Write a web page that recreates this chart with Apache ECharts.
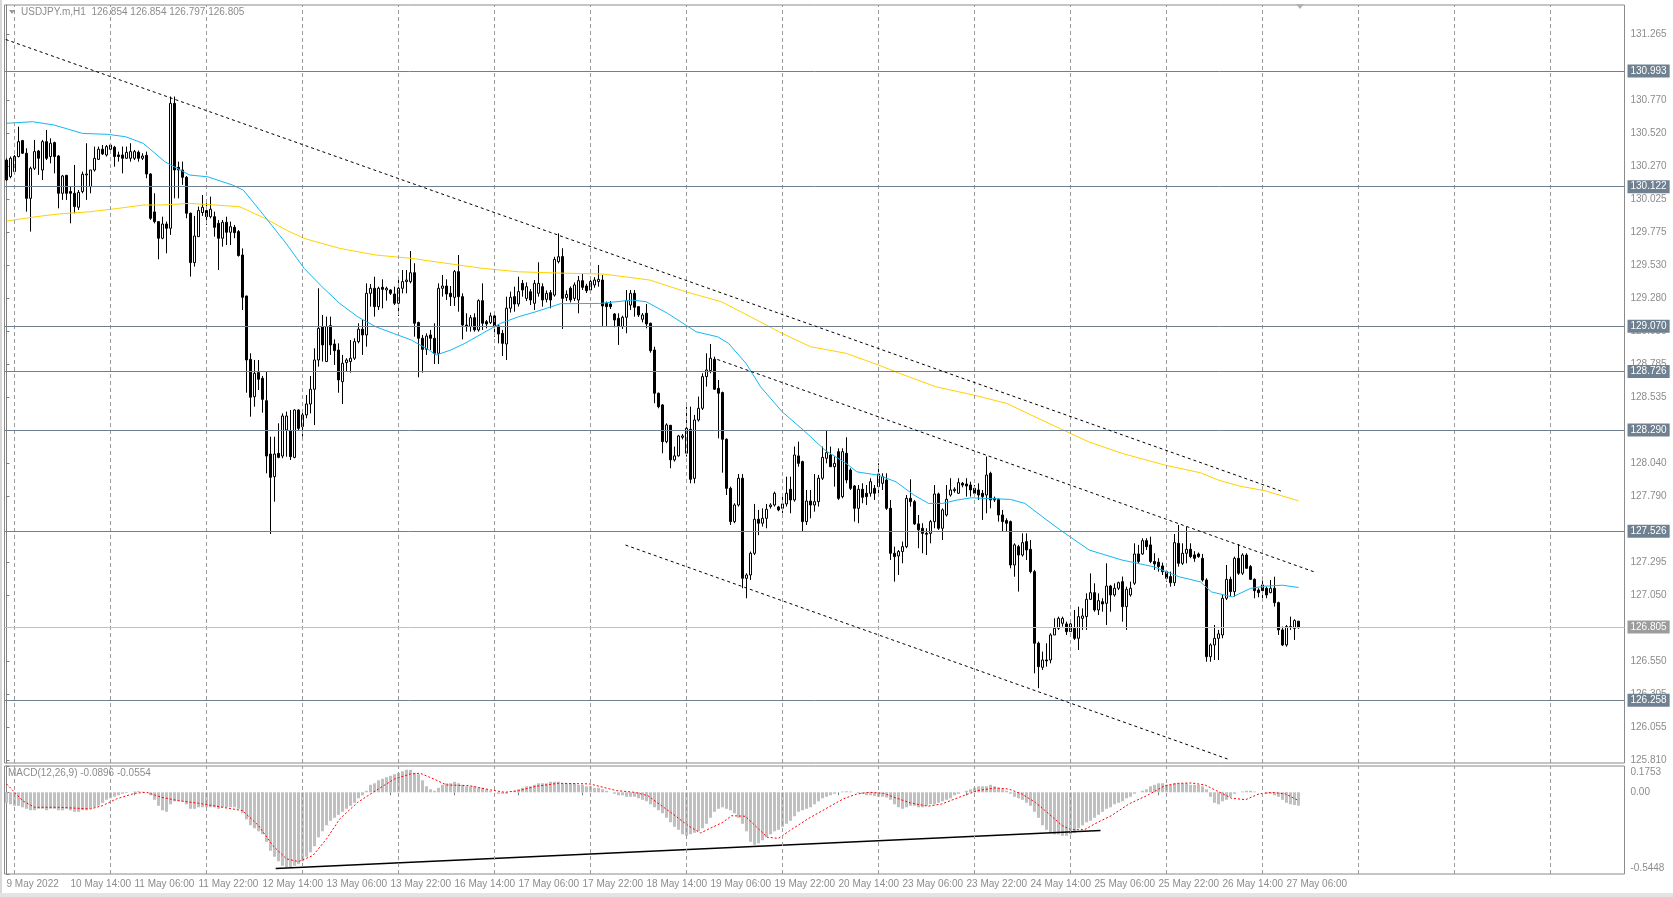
<!DOCTYPE html>
<html><head><meta charset="utf-8">
<script src="https://cdn.jsdelivr.net/npm/echarts@6/dist/echarts.min.js"></script>
<style>html,body{margin:0;padding:0;background:#fff;overflow:hidden}#c{width:1673px;height:897px}</style>
</head><body><div id="c"></div><script>
// ---------- DATA (USDJPY.m, H1, 9 May 22:00 -> 27 May 09:00, 324 bars) ----------
const opens=[
130.32,130.195,130.233,130.346,130.466,130.371,130.032,130.258,130.388,130.245,
130.458,130.346,130.451,130.35,130.07,130.205,130.083,130.07,129.965,130.083,
130.208,130.12,130.245,130.325,130.401,130.358,130.401,130.416,130.358,130.358,
130.333,130.333,130.333,130.378,130.333,130.355,130.215,129.93,129.857,129.732,
129.839,129.807,130.746,130.265,130.245,130.19,129.92,129.549,129.744,129.925,
129.94,129.894,129.894,129.844,129.732,129.852,129.777,129.814,129.782,129.606,
129.298,128.822,128.541,128.722,128.679,128.511,128.11,127.94,128.115,128.095,
128.291,128.286,128.085,128.441,128.316,128.404,128.486,128.597,128.817,129.068,
128.805,129.075,128.937,128.892,128.654,128.797,128.805,128.83,128.955,129.048,
129.005,129.318,129.356,129.218,129.363,129.343,129.343,129.313,129.243,129.356,
129.406,129.406,129.473,129.098,128.98,128.897,129.005,128.98,128.867,129.356,
129.373,129.318,129.288,129.481,129.293,129.08,129.068,129.135,129.043,129.263,
129.105,129.098,129.148,129.073,129.017,128.937,129.206,129.293,129.238,129.393,
129.28,129.33,129.243,129.318,129.368,129.273,129.323,129.305,129.556,129.594,
129.286,129.356,129.28,129.268,129.413,129.373,129.343,129.381,129.406,129.418,
129.243,129.238,129.163,129.13,129.068,129.138,129.23,129.318,129.218,129.123,
129.168,129.093,128.892,128.567,128.479,128.203,128.326,128.066,128.096,128.236,
128.116,128.296,127.927,128.366,128.454,128.692,128.737,128.822,128.604,128.572,
128.221,127.852,127.602,127.727,127.928,127.176,127.201,127.364,127.62,127.59,
127.627,127.715,127.727,127.712,127.702,127.735,127.845,127.765,128.096,128.053,
127.602,127.757,127.727,127.752,127.928,128.078,128.103,128.015,128.128,127.79,
128.116,127.99,127.87,127.702,127.845,127.815,127.815,127.852,127.865,127.89,
127.915,127.702,127.364,127.344,127.377,127.414,127.777,127.752,127.585,127.552,
127.514,127.514,127.602,127.81,127.552,127.652,127.802,127.835,127.815,127.89,
127.885,127.877,127.852,127.84,127.815,127.802,127.965,127.777,127.77,127.652,
127.61,127.602,127.276,127.414,127.351,127.452,127.394,127.226,126.688,126.507,
126.562,126.562,126.75,126.8,126.838,126.833,126.775,126.8,126.725,126.875,
126.888,127.018,127.068,126.938,127.0,126.988,127.118,127.051,127.101,127.151,
126.963,127.051,127.139,127.359,127.359,127.459,127.427,127.302,127.297,127.269,
127.226,127.189,127.143,127.439,127.289,127.364,127.394,127.352,127.359,127.326,
127.163,126.587,126.675,126.725,126.75,127.026,127.168,127.076,127.326,127.214,
127.351,127.264,127.168,127.088,127.126,127.101,127.068,127.101,126.993,126.788,
126.675,126.808,126.8,126.854];
const highs=[
130.333,130.346,130.358,130.571,130.471,130.408,130.27,130.471,130.396,130.471,
130.546,130.483,130.458,130.358,130.208,130.208,130.12,130.283,130.095,130.233,
130.446,130.245,130.421,130.421,130.433,130.433,130.446,130.426,130.383,130.421,
130.421,130.446,130.396,130.391,130.371,130.383,130.22,130.07,129.857,129.894,
129.857,130.797,130.797,130.308,130.308,130.2,129.925,129.9,129.97,130.057,
129.995,130.045,129.932,129.869,129.869,129.894,129.857,129.832,129.794,129.656,
129.3,128.867,128.817,128.817,128.697,128.729,128.24,128.24,128.341,128.416,
128.429,128.441,128.446,128.446,128.441,128.554,128.697,128.905,129.356,129.155,
129.143,129.143,128.972,128.942,128.855,128.83,128.967,128.98,129.093,129.118,
129.393,129.388,129.443,129.368,129.423,129.368,129.348,129.368,129.418,129.493,
129.493,129.636,129.544,129.105,129.005,129.017,129.043,129.093,129.393,129.456,
129.423,129.373,129.493,129.606,129.318,129.168,129.155,129.168,129.273,129.393,
129.118,129.173,129.155,129.08,129.043,129.293,129.331,129.368,129.443,129.418,
129.4,129.35,129.418,129.551,129.393,129.34,129.343,129.593,129.769,129.657,
129.34,129.37,129.4,129.448,129.463,129.39,129.42,129.44,129.531,129.456,
129.256,129.26,129.168,129.168,129.15,129.343,129.343,129.343,129.22,129.17,
129.238,129.098,128.917,128.572,128.486,128.341,128.329,128.166,128.254,128.26,
128.466,128.466,128.404,128.542,128.717,128.867,128.937,128.842,128.667,128.579,
128.228,127.865,127.74,127.96,127.96,127.214,127.377,127.735,127.69,127.702,
127.735,127.74,127.827,127.72,127.815,127.94,127.94,128.166,128.203,128.06,
127.84,127.84,127.96,127.953,128.166,128.291,128.166,128.091,128.153,128.153,
128.236,128.003,127.877,127.877,127.89,127.877,127.928,127.877,128.04,127.965,
127.965,127.765,127.414,127.389,127.452,127.802,127.92,127.765,127.652,127.59,
127.552,127.615,127.877,127.82,127.702,127.877,127.928,127.86,127.928,127.9,
127.928,127.902,127.877,127.89,127.84,128.091,127.977,127.79,127.777,127.69,
127.627,127.61,127.439,127.427,127.514,127.514,127.464,127.239,126.7,126.625,
126.688,126.763,126.875,126.888,126.888,126.85,126.863,126.938,126.963,126.95,
127.063,127.213,127.138,127.063,127.026,127.289,127.126,127.138,127.151,127.189,
127.113,127.151,127.439,127.427,127.477,127.477,127.489,127.364,127.327,127.294,
127.239,127.226,127.509,127.577,127.439,127.565,127.439,127.38,127.37,127.359,
127.176,126.687,126.825,126.788,127.051,127.276,127.188,127.339,127.434,127.364,
127.364,127.276,127.176,127.101,127.188,127.113,127.163,127.188,127.0,126.813,
126.825,126.888,126.868,126.854];
const lows=[
130.165,130.183,130.225,130.34,130.366,129.932,129.782,130.245,130.208,130.17,
130.32,130.295,130.22,129.957,130.02,130.02,129.844,129.92,129.945,130.07,
130.02,130.07,130.233,130.32,130.358,130.346,130.396,130.27,130.308,130.22,
130.33,130.308,130.32,130.308,130.32,130.183,129.87,129.844,129.574,129.724,
129.619,129.757,130.032,130.032,130.133,129.882,129.444,129.519,129.744,129.9,
129.832,129.882,129.744,129.494,129.669,129.681,129.681,129.732,129.594,129.193,
128.571,128.391,128.466,128.591,128.421,127.965,127.509,127.752,128.078,128.078,
128.09,128.065,128.078,128.291,128.241,128.379,128.416,128.328,128.767,128.805,
128.805,128.855,128.78,128.571,128.486,128.73,128.722,128.817,128.942,128.855,
128.917,129.218,129.143,129.193,129.205,129.263,129.306,129.23,129.148,129.318,
129.318,129.393,128.992,128.687,128.722,128.855,128.892,128.787,128.787,129.293,
129.268,129.223,129.223,129.18,128.972,129.03,129.03,129.03,129.03,129.043,
129.055,129.088,128.992,128.942,128.847,128.817,129.173,129.18,129.218,129.293,
129.26,129.23,129.193,129.293,129.218,129.25,129.205,129.293,129.543,129.05,
129.26,129.25,129.26,129.168,129.343,129.32,129.33,129.36,129.368,129.073,
129.073,129.2,129.063,128.93,129.05,129.018,129.193,129.143,129.14,129.1,
129.055,128.872,128.492,128.454,128.116,128.191,128.003,128.053,128.091,128.22,
128.091,127.89,127.89,128.354,128.441,128.617,128.717,128.592,128.228,127.97,
127.802,127.577,127.59,127.715,127.101,127.026,127.163,127.351,127.5,127.565,
127.552,127.7,127.715,127.68,127.665,127.715,127.665,127.752,128.015,127.527,
127.577,127.627,127.677,127.715,127.915,128.04,128.015,127.865,127.765,127.777,
127.89,127.84,127.602,127.59,127.74,127.727,127.79,127.765,127.815,127.84,
127.69,127.314,127.151,127.201,127.289,127.402,127.715,127.577,127.402,127.364,
127.351,127.439,127.552,127.54,127.464,127.64,127.79,127.82,127.81,127.86,
127.79,127.79,127.802,127.765,127.615,127.665,127.702,127.75,127.602,127.527,
127.527,127.251,127.188,127.076,127.339,127.314,127.213,126.462,126.35,126.487,
126.512,126.537,126.75,126.788,126.813,126.75,126.775,126.713,126.637,126.788,
126.788,127.013,126.925,126.9,126.925,126.825,126.925,127.038,127.088,126.85,
126.788,127.038,127.126,127.289,127.352,127.389,127.289,127.239,127.226,127.201,
127.151,127.113,127.118,127.264,127.276,127.289,127.327,127.3,127.33,127.151,
126.549,126.549,126.562,126.562,126.725,127.013,127.038,127.038,127.201,127.201,
127.251,127.163,127.026,127.033,127.026,127.026,127.063,126.963,126.75,126.667,
126.662,126.788,126.713,126.797];
const closes=[
130.17,130.333,130.346,130.458,130.371,130.032,130.258,130.383,130.333,130.458,
130.333,130.446,130.346,130.07,130.2,130.07,130.07,129.97,130.077,130.213,
130.215,130.245,130.333,130.401,130.366,130.421,130.433,130.346,130.346,130.333,
130.378,130.383,130.383,130.333,130.35,130.215,129.882,129.857,129.732,129.839,
129.807,130.746,130.245,130.245,130.19,129.92,129.549,129.749,129.94,129.965,
129.894,129.95,129.814,129.732,129.852,129.777,129.819,129.774,129.602,129.288,
128.817,128.537,128.717,128.672,128.521,128.095,127.935,128.11,128.085,128.396,
128.396,128.09,128.441,128.303,128.404,128.486,128.597,128.817,129.055,128.93,
129.068,128.93,128.887,128.667,128.792,128.817,128.83,128.955,129.048,129.005,
129.318,129.356,129.218,129.356,129.348,129.356,129.318,129.243,129.356,129.406,
129.418,129.473,129.093,128.98,128.897,128.997,128.98,128.867,129.356,129.373,
129.313,129.293,129.481,129.293,129.08,129.068,129.135,129.043,129.263,129.093,
129.088,129.148,129.068,129.012,128.942,129.206,129.288,129.238,129.331,129.343,
129.368,129.268,129.393,129.393,129.268,129.318,129.268,129.573,129.593,129.28,
129.31,129.268,129.381,129.413,129.363,129.338,129.406,129.418,129.423,129.223,
129.218,129.218,129.118,129.068,129.138,129.263,129.318,129.213,129.155,129.155,
129.088,128.887,128.567,128.466,128.203,128.329,128.066,128.096,128.246,128.246,
128.303,127.92,128.366,128.454,128.692,128.742,128.83,128.597,128.567,128.221,
127.852,127.602,127.727,127.928,127.176,127.201,127.364,127.62,127.59,127.627,
127.695,127.727,127.815,127.69,127.735,127.815,127.765,128.103,128.04,127.602,
127.757,127.727,127.752,127.928,128.085,128.12,128.015,128.04,127.777,128.128,
127.915,127.852,127.702,127.845,127.785,127.79,127.902,127.815,127.96,127.94,
127.702,127.364,127.339,127.377,127.414,127.777,127.752,127.585,127.54,127.514,
127.507,127.602,127.81,127.552,127.69,127.77,127.84,127.845,127.895,127.877,
127.87,127.84,127.815,127.802,127.79,127.952,127.765,127.765,127.652,127.602,
127.59,127.276,127.427,127.351,127.444,127.389,127.226,126.688,126.512,126.562,
126.555,126.75,126.8,126.875,126.875,126.775,126.833,126.725,126.888,126.893,
127.018,127.068,126.938,127.008,126.983,127.118,127.051,127.101,127.143,126.963,
127.093,127.101,127.359,127.302,127.459,127.414,127.302,127.284,127.264,127.226,
127.176,127.143,127.444,127.289,127.364,127.394,127.339,127.326,127.339,127.163,
126.587,126.675,126.725,126.758,127.026,127.168,127.076,127.326,127.214,127.351,
127.251,127.168,127.083,127.068,127.083,127.051,127.101,126.993,126.788,126.675,
126.813,126.813,126.858,126.805];
// MACD(12,26,9) main (histogram), one value per bar
const macdMain=[
-0.07,-0.08,-0.09,-0.09,-0.10,-0.11,-0.12,-0.12,-0.11,-0.11,
-0.12,-0.11,-0.11,-0.12,-0.12,-0.11,-0.12,-0.13,-0.13,-0.12,
-0.12,-0.11,-0.10,-0.09,-0.07,-0.05,-0.04,-0.03,-0.02,-0.01,
-0.005,0.0,0.005,0.007,0.004,0.0,-0.02,-0.05,-0.09,-0.12,
-0.13,-0.08,-0.06,-0.06,-0.06,-0.08,-0.11,-0.11,-0.10,-0.10,
-0.10,-0.10,-0.10,-0.11,-0.10,-0.10,-0.10,-0.10,-0.11,-0.14,
-0.18,-0.22,-0.24,-0.26,-0.28,-0.33,-0.39,-0.43,-0.46,-0.49,
-0.50,-0.50,-0.49,-0.48,-0.46,-0.43,-0.40,-0.36,-0.30,-0.26,
-0.22,-0.19,-0.17,-0.15,-0.13,-0.11,-0.09,-0.07,-0.04,-0.02,
0.01,0.05,0.06,0.08,0.09,0.10,0.11,0.12,0.13,0.14,
0.15,0.15,0.13,0.12,0.08,0.04,0.02,0.01,0.03,0.05,
0.06,0.06,0.07,0.06,0.05,0.04,0.04,0.04,0.03,0.03,
0.02,0.01,0.0,-0.01,-0.01,-0.01,0.0,0.01,0.02,0.03,
0.04,0.04,0.05,0.06,0.06,0.06,0.07,0.07,0.07,0.06,
0.06,0.06,0.06,0.05,0.05,0.04,0.04,0.03,0.03,0.02,
0.01,0.0,-0.01,-0.02,-0.02,-0.03,-0.03,-0.03,-0.04,-0.05,
-0.06,-0.08,-0.10,-0.12,-0.14,-0.17,-0.20,-0.23,-0.25,-0.28,
-0.29,-0.28,-0.27,-0.26,-0.24,-0.21,-0.17,-0.13,-0.11,-0.10,
-0.11,-0.12,-0.14,-0.17,-0.21,-0.26,-0.33,-0.35,-0.34,-0.32,
-0.30,-0.28,-0.26,-0.25,-0.23,-0.21,-0.19,-0.16,-0.13,-0.12,
-0.11,-0.10,-0.08,-0.06,-0.04,-0.03,-0.02,-0.01,0.0,0.005,
0.007,0.005,0.0,-0.005,-0.01,-0.02,-0.02,-0.025,-0.03,-0.03,
-0.035,-0.05,-0.08,-0.10,-0.11,-0.10,-0.09,-0.09,-0.10,-0.10,
-0.09,-0.08,-0.08,-0.07,-0.06,-0.05,-0.04,-0.02,-0.01,0.0,
0.01,0.02,0.03,0.04,0.04,0.04,0.05,0.04,0.03,0.02,
0.01,-0.01,-0.03,-0.04,-0.05,-0.07,-0.09,-0.13,-0.17,-0.22,
-0.25,-0.27,-0.28,-0.28,-0.29,-0.29,-0.28,-0.27,-0.24,-0.22,
-0.20,-0.19,-0.17,-0.15,-0.13,-0.11,-0.10,-0.08,-0.07,-0.06,
-0.04,-0.03,-0.01,0.0,0.01,0.02,0.04,0.05,0.06,0.06,
0.05,0.05,0.06,0.06,0.06,0.06,0.05,0.05,0.05,0.04,
0.02,-0.03,-0.07,-0.08,-0.06,-0.05,-0.03,-0.01,0.0,0.005,
0.01,0.01,0.005,0.0,0.0,-0.01,-0.01,-0.02,-0.03,-0.05,
-0.07,-0.08,-0.085,-0.0896];
// MACD signal line, read at bar positions
const signalBar=[0,2,4,7,13,21,24,27.5,32,35,38.7,43,48,54,59,63,66.6,70,73,76.6,80,83.3,87.8,92.3,97,101,103.4,106.8,110,115.7,121,124.6,128,132.4,138,145.8,152.5,157,160.3,166,170.4,173.5,179.1,181.3,184.7,188,190.2,193,195.8,200.3,204.7,209.2,212.6,215.8,219.3,222.6,226,230.4,233.8,238.2,242.7,247.2,250.5,253.8,257.2,260.6,263.9,266.1,269.5,272.8,276.2,280.6,285.1,289.6,292.9,296.3,299.6,303,306.3,309.8,313.1,316.3,319.7,323];
const signalVal=[0.056,0,-0.056,-0.1,-0.1,-0.111,-0.089,-0.044,-0.007,0,-0.033,-0.056,-0.073,-0.1,-0.122,-0.222,-0.356,-0.444,-0.462,-0.422,-0.311,-0.178,-0.067,0.011,0.089,0.122,0.127,0.089,0.049,0.044,0.016,0,0.011,0.04,0.06,0.056,0.011,0,-0.022,-0.133,-0.222,-0.271,-0.2,-0.156,-0.16,-0.244,-0.3,-0.307,-0.256,-0.178,-0.111,-0.044,-0.011,0,-0.007,-0.04,-0.071,-0.093,-0.078,-0.033,0.011,0.029,0.022,-0.011,-0.067,-0.144,-0.222,-0.249,-0.249,-0.2,-0.156,-0.078,-0.022,0.044,0.06,0.062,0.049,0.004,-0.04,-0.049,-0.011,0,-0.011,-0.055];
// Moving averages (blue = fast, yellow = slow), read at bar positions
const maFastBar=[0,6.5,11.9,19,25.3,29.8,34.2,39.6,45.8,50.3,56.5,59.2,64.6,69.9,74.4,78.9,83.3,87.8,92.3,96.7,101.2,105.7,107.4,111,114.6,119,123.5,128,132.4,138.5,148.3,156.4,159.9,165.3,172.4,177.8,180.5,184.9,188.5,193.9,199.2,204.6,209.9,212.6,218,222.4,226.9,230.5,234,237.6,241.2,251,254.6,259,263.5,270.7,278.9,286.9,293.2,298.5,301.2,306.5,311,314.6,319,323];
const maFastVal=[130.596,130.608,130.583,130.52,130.513,130.495,130.445,130.307,130.207,130.194,130.132,130.094,129.894,129.693,129.506,129.367,129.242,129.142,129.067,129.017,128.967,128.891,128.854,128.891,128.942,129.017,129.092,129.142,129.18,129.24,129.242,129.267,129.255,129.167,129.029,128.991,128.942,128.791,128.616,128.428,128.29,128.14,128.04,127.976,127.951,127.901,127.801,127.739,127.739,127.764,127.781,127.769,127.739,127.638,127.538,127.388,127.313,127.262,127.187,127.149,127.074,127.036,127.1,127.117,127.124,127.107];
const maSlowBar=[0,7.4,12.8,20.8,28,34.2,38.7,45.8,52.1,58.3,64.6,69.9,74.4,83.3,92.3,101.2,110.1,119,128,138.5,149.2,160.8,169.8,178.7,187.6,193.9,201,209.9,218,223.3,232.3,241.8,250.1,256.4,263.5,270.7,278.9,289.6,298.5,303,308.3,314.6,323];
const maSlowVal=[129.861,129.894,129.914,129.931,129.957,129.982,129.982,129.994,129.982,129.969,129.882,129.794,129.731,129.656,129.606,129.581,129.543,129.506,129.48,129.47,129.463,129.418,129.33,129.255,129.117,129.017,128.917,128.867,128.779,128.716,128.616,128.553,128.49,128.40,128.30,128.2,128.115,128.027,127.969,127.914,127.869,127.834,127.759];
// Hand-drawn trend lines: [startBar, startPrice, endBar, endPrice]
const trendUpper=[-0.2,131.226,318.6,127.832];
const trendMiddle=[177.7,128.821,327.5,127.218];
const trendLower=[154.75,127.426,305.25,125.818];
const macdTrend=[67.3,-0.508,273.5,-0.255];
// Horizontal levels and price info
const levelLines=[130.993,130.122,129.070,128.726,128.290,127.526,126.258];
const currentPrice=126.805;
const priceTicks=[131.265,130.770,130.520,130.270,130.025,129.775,129.530,129.280,129.030,128.785,128.535,128.040,127.790,127.295,127.050,126.550,126.305,126.055,125.810];
const macdMax=0.1753, macdMin=-0.5448;
const timeLabels=['9 May 2022','10 May 14:00','11 May 06:00','11 May 22:00','12 May 14:00','13 May 06:00','13 May 22:00','16 May 14:00','17 May 06:00','17 May 22:00','18 May 14:00','19 May 06:00','19 May 22:00','20 May 14:00','23 May 06:00','23 May 22:00','24 May 14:00','25 May 06:00','25 May 22:00','26 May 14:00','27 May 06:00'];
const headerText='USDJPY.m,H1  126.854 126.854 126.797 126.805';
const macdText='MACD(12,26,9) -0.0896 -0.0554';

// ---------- CHART ----------
const FONT='"Liberation Sans", Arial, sans-serif';
const TXT='#8c8c8c';
const SLOTS=405, LABEL_EVERY=16, GRID_FIRST=1.83, GRID_EVERY=24;
const cats=Array.from({length:SLOTS},(_,i)=>String(i));
const candleData=opens.map((o,i)=>[o,closes[i],lows[i],highs[i]]);
const pairs=(xs,ys)=>xs.map((x,i)=>[x,ys[i]]);
const seg=t=>[[t[0],t[1]],[t[2],t[3]]];
const vGrid=[];for(let v=GRID_FIRST;v<SLOTS;v+=GRID_EVERY)vGrid.push({xAxis:v});
const showLabel=i=>i%LABEL_EVERY===0&&i/LABEL_EVERY<timeLabels.length;

const lvlLabel=(bg)=>({show:true,position:'end',distance:3,formatter:p=>p.name,color:'#fff',backgroundColor:bg,padding:[2,3,1,3],fontSize:10,fontFamily:FONT});
const dashed={color:'#000',width:1,type:[3,3]};
const chart=echarts.init(document.getElementById('c'),null,{renderer:'canvas',width:1673,height:897});
chart.setOption({
  animation:false,
  backgroundColor:'#ffffff',
  grid:[
    {left:4.5,top:5,width:1620,height:758,show:true,borderColor:'#8a8a8a',borderWidth:1},
    {left:4.5,top:766,width:1620,height:108,show:true,borderColor:'#8a8a8a',borderWidth:1}
  ],
  xAxis:[
    {gridIndex:0,type:'category',data:cats,boundaryGap:true,show:false},
    {gridIndex:0,type:'value',min:-0.5,max:SLOTS-0.5,show:false},
    {gridIndex:1,type:'category',data:cats,boundaryGap:true,position:'bottom',
      axisLine:{show:false},
      axisTick:{show:true,interval:showLabel,alignWithLabel:true,length:3,lineStyle:{color:'#808080'}},
      axisLabel:{interval:showLabel,formatter:(v,i)=>timeLabels[i/LABEL_EVERY],align:'left',color:TXT,fontSize:10,fontFamily:FONT,margin:5},
      splitLine:{show:false}},
    {gridIndex:1,type:'value',min:-0.5,max:SLOTS-0.5,show:false}
  ],
  yAxis:[
    {gridIndex:0,type:'value',position:'right',min:125.7877,max:131.4852,splitLine:{show:false},
      axisLine:{show:true,lineStyle:{color:'#808080'}},
      axisTick:{show:true,customValues:priceTicks,length:3,lineStyle:{color:'#808080'}},
      axisLabel:{customValues:priceTicks,formatter:v=>v.toFixed(3),color:TXT,fontSize:10,fontFamily:FONT,margin:6}},
    {gridIndex:1,type:'value',position:'right',min:macdMin,max:macdMax,splitLine:{show:false},
      axisLine:{show:true,lineStyle:{color:'#808080'}},
      axisTick:{show:true,customValues:[macdMax,0,macdMin],length:3,lineStyle:{color:'#808080'}},
      axisLabel:{customValues:[0],formatter:()=>'0.00',color:TXT,fontSize:10,fontFamily:FONT,margin:6}}
  ],
  series:[
    {type:'line',xAxisIndex:1,yAxisIndex:0,data:[],z:1,silent:true,
      markLine:{silent:true,symbol:['none','none'],label:{show:false},lineStyle:{color:'#9a9a9a',width:1,type:[4,3]},data:vGrid}},
    {type:'line',xAxisIndex:3,yAxisIndex:1,data:[],z:1,silent:true,
      markLine:{silent:true,symbol:['none','none'],label:{show:false},lineStyle:{color:'#9a9a9a',width:1,type:[4,3]},data:vGrid}},
    {type:'line',xAxisIndex:1,yAxisIndex:0,data:[],z:2,silent:true,
      markLine:{silent:true,symbol:['none','none'],
        data:levelLines.map(v=>({yAxis:v,name:v.toFixed(3),lineStyle:{color:'#6f8090',width:1,type:'solid'},label:lvlLabel('#6f8090')}))
          .concat([{yAxis:currentPrice,name:currentPrice.toFixed(3),lineStyle:{color:'#c0c0c0',width:1,type:'solid'},label:lvlLabel('#9c9c9c')}])}},
    {type:'candlestick',name:'USDJPY',xAxisIndex:0,yAxisIndex:0,data:candleData,barWidth:2,z:3,
      itemStyle:{color:'#ffffff',color0:'#000000',borderColor:'#000000',borderColor0:'#000000',borderWidth:1}},
    {type:'line',xAxisIndex:1,yAxisIndex:0,data:pairs(maSlowBar,maSlowVal),showSymbol:false,z:4,lineStyle:{color:'#ffd200',width:1}},
    {type:'line',xAxisIndex:1,yAxisIndex:0,data:pairs(maFastBar,maFastVal),showSymbol:false,z:4,lineStyle:{color:'#12b8f2',width:1}},
    {type:'line',xAxisIndex:1,yAxisIndex:0,data:seg(trendUpper),showSymbol:false,z:5,lineStyle:dashed},
    {type:'line',xAxisIndex:1,yAxisIndex:0,data:seg(trendMiddle),showSymbol:false,z:5,lineStyle:dashed},
    {type:'line',xAxisIndex:1,yAxisIndex:0,data:seg(trendLower),showSymbol:false,z:5,lineStyle:dashed},
    {type:'bar',xAxisIndex:2,yAxisIndex:1,data:macdMain,barWidth:3,z:2,itemStyle:{color:'#c0c0c0'}},
    {type:'line',xAxisIndex:3,yAxisIndex:1,data:pairs(signalBar,signalVal),showSymbol:false,z:4,lineStyle:{color:'#ff0000',width:1,type:[2,2]}},
    {type:'line',xAxisIndex:3,yAxisIndex:1,data:seg(macdTrend),showSymbol:false,z:4,lineStyle:{color:'#000',width:1.5}}
  ]
});
// Texts placed through the chart's own scales
const axisX=chart.convertToPixel({xAxisIndex:1},SLOTS-0.5);
const yMax=chart.convertToPixel({yAxisIndex:1},macdMax);
const yMin=chart.convertToPixel({yAxisIndex:1},macdMin);
const yTopMain=chart.convertToPixel({yAxisIndex:0},131.4852);
const yBotMacd=yMin;
chart.setOption({graphic:[
  {type:'polygon',shape:{points:[[9,10],[15,10],[12,14]]},style:{fill:'#9a9a9a'}},
  {type:'text',left:21,top:7,style:{text:headerText,fill:TXT,font:'10px '+FONT}},
  {type:'text',left:8,top:yMax+2,style:{text:macdText,fill:TXT,font:'10px '+FONT}},
  {type:'text',x:axisX+6,y:yMax+1,style:{text:macdMax.toFixed(4),fill:TXT,font:'10px '+FONT,verticalAlign:'top'}},
  {type:'text',x:axisX+6,y:yMin-1,style:{text:macdMin.toFixed(4),fill:TXT,font:'10px '+FONT,verticalAlign:'bottom'}},
  {type:'polygon',shape:{points:[[1296,yTopMain-1],[1304,yTopMain-1],[1300,yTopMain+4]]},style:{fill:'#b0b0b0'}},
  {type:'rect',shape:{x:0,y:yBotMacd+19,width:1673,height:10},style:{fill:'#e4e4e4'}},
  {type:'rect',shape:{x:0,y:0,width:2,height:yBotMacd+19},style:{fill:'#d8d8d8'}}
]});
</script></body></html>
